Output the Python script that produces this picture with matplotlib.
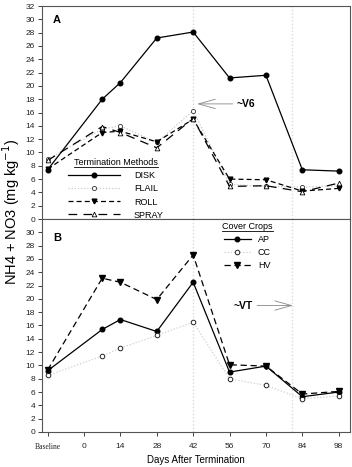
#!/usr/bin/env python3
"""Soil NH4 + NO3 after cover crop termination: two stacked panels (A, B)."""

import matplotlib

matplotlib.use("Agg")
import matplotlib.pyplot as plt
from matplotlib.lines import Line2D

plt.rcParams["font.family"] = ["Liberation Sans", "DejaVu Sans"]

# sampling days; "Baseline" is drawn at -14
DAYS = [-14, 7, 14, 28, 42, 56, 70, 84, 98]
TICK_POS = [-14, 0, 14, 28, 42, 56, 70, 84, 98]
TICK_LABELS = ["Baseline", "0", "14", "28", "42", "56", "70", "84", "98"]
STAGE_DAYS = [42, 80]

# Panel A: termination methods
DISK = [7.4, 18.0, 20.5, 27.2, 28.1, 21.2, 21.6, 7.4, 7.2]
FLAIL = [9.0, 13.5, 14.0, 11.5, 16.3, 5.2, 4.9, 4.8, 5.0]
ROLL = [7.5, 13.0, 13.2, 11.6, 15.0, 6.0, 5.9, 4.2, 4.6]
SPRAY = [8.8, 13.9, 13.0, 10.7, 15.1, 4.9, 5.0, 4.1, 5.4]

# Panel B: cover crops
AP = [9.2, 15.4, 16.9, 15.1, 22.5, 9.0, 9.9, 5.3, 6.0]
CC = [8.5, 11.4, 12.6, 14.5, 16.5, 8.0, 7.0, 5.0, 5.4]
HV = [9.3, 23.1, 22.5, 19.9, 26.6, 10.1, 9.9, 5.7, 6.1]

SPINE = "#555555"


def style_axis(ax, yticks):
    ax.set_xlim(-16.2, 102.3)
    ax.set_ylim(0, 32)
    ax.set_yticks(yticks)
    ax.tick_params(axis="y", direction="out", length=3, width=0.6, pad=2,
                   labelsize=6, colors="#222222")
    for spine in ax.spines.values():
        spine.set_color(SPINE)
        spine.set_linewidth(0.8)
    for d in STAGE_DAYS:
        ax.axvline(d, color="#dadada", linestyle=(0, (1, 1.5)), linewidth=1.0, zorder=0)


def underline_title(fig, leg):
    fig.canvas.draw()
    bb = leg.get_title().get_window_extent().transformed(fig.transFigure.inverted())
    fig.add_artist(Line2D([bb.x0, bb.x1], [bb.y0 + 0.001, bb.y0 + 0.001],
                          transform=fig.transFigure, color="black", linewidth=0.6))


fig = plt.figure(figsize=(3.52, 4.67), dpi=100, facecolor="white")
ax_a = fig.add_axes([0.119, 0.531, 0.875, 0.456])
ax_b = fig.add_axes([0.119, 0.075, 0.875, 0.456])

# ---- panel A
style_axis(ax_a, range(0, 33, 2))
ax_a.set_xticks([])
ax_a.plot(DAYS, DISK, color="black", linewidth=0.9, marker="o", markersize=3.3, label="DISK")
ax_a.plot(DAYS, FLAIL, color="#c8c8c8", linestyle=(0, (1, 1.5)), linewidth=0.9,
          marker="o", markersize=3.0, markerfacecolor="white", markeredgecolor="#333333",
          markeredgewidth=0.6, label="FLAIL")
ax_a.plot(DAYS, ROLL, color="black", linestyle=(0, (4, 2.5)), linewidth=0.9,
          marker="v", markersize=3.4, label="ROLL")
ax_a.plot(DAYS, SPRAY, color="black", linestyle=(0, (7, 5)), linewidth=0.9,
          marker="^", markersize=3.4, markerfacecolor="white", markeredgewidth=0.6, label="SPRAY")
ax_a.text(-10.4, 29.9, "A", fontsize=8, fontweight="bold", ha="center", va="center")
ax_a.annotate("~V6", xy=(43.5, 17.3), xytext=(58.8, 17.3), fontsize=7.5, fontweight="bold",
              ha="left", va="center",
              arrowprops=dict(arrowstyle="->,head_length=1.6,head_width=0.45",
                              color="#888888", linewidth=0.6, shrinkA=1, shrinkB=0))
leg_a = ax_a.legend(loc="upper left", bbox_to_anchor=(0.085, 0.285), frameon=False,
                    title="Termination Methods", title_fontsize=6.5, fontsize=6.5,
                    handlelength=5.8, handletextpad=1.5, labelspacing=0.45,
                    borderpad=0, borderaxespad=0)

# ---- panel B
style_axis(ax_b, range(0, 31, 2))
ax_b.set_xticks(TICK_POS)
ax_b.set_xticklabels(TICK_LABELS)
ax_b.tick_params(axis="x", direction="out", length=3, width=0.6, pad=5,
                 labelsize=6, colors="#222222")
ax_b.get_xticklabels()[0].set_fontfamily("Liberation Serif")
ax_b.get_xticklabels()[0].set_fontsize(5.5)
ax_b.plot(DAYS, AP, color="black", linewidth=0.9, marker="o", markersize=3.3, label="AP")
ax_b.plot(DAYS, CC, color="#d0d0d0", linestyle=(0, (1, 1.5)), linewidth=0.9,
          marker="o", markersize=3.3, markerfacecolor="white", markeredgecolor="#222222",
          markeredgewidth=0.7, label="CC")
ax_b.plot(DAYS, HV, color="black", linestyle=(0, (5, 3)), linewidth=0.9,
          marker="v", markersize=3.8, label="HV")
ax_b.text(-10.4, 29.1, "B", fontsize=8, fontweight="bold", ha="center", va="center")
ax_b.annotate("~VT", xy=(80.4, 19.0), xytext=(65.0, 19.0), fontsize=7.5, fontweight="bold",
              ha="right", va="center",
              arrowprops=dict(arrowstyle="->,head_length=1.6,head_width=0.45",
                              color="#888888", linewidth=0.6, shrinkA=1, shrinkB=0))
leg_b = ax_b.legend(loc="upper left", bbox_to_anchor=(0.585, 0.985), frameon=False,
                    title="Cover Crops", title_fontsize=6.5, fontsize=6.5,
                    handlelength=3.0, handletextpad=0.8, labelspacing=0.45,
                    borderpad=0, borderaxespad=0)
ax_b.set_xlabel("Days After Termination", fontsize=7, labelpad=3)

fig.text(0.033, 0.546, "NH4 + NO3 (mg kg$^{-1}$)", rotation=90, fontsize=10.5,
         ha="center", va="center")

underline_title(fig, leg_a)
underline_title(fig, leg_b)

fig.savefig("out.png", dpi=100)
plt.close(fig)
